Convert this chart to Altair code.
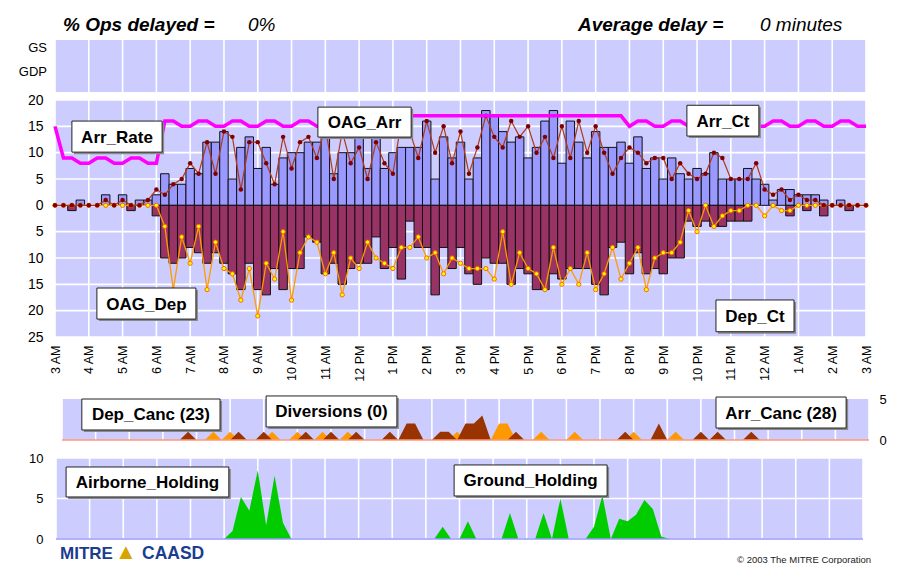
import json
import altair as alt
import pandas as pd

# ---------------- data: 15-minute bins from 3 AM to 3 AM (97 points) ----------------
arr_ct = [0, 0, 0, 1, 0, 0, 2, 0, 2, 0, 1, 1, 2,
          6, 4, 4, 7, 6, 12, 12, 14, 5, 11, 13, 7,
          11, 4, 9, 10, 10, 12, 12, 14, 6, 10, 10, 13,
          7, 13, 7, 10, 11, 11, 11, 16, 5, 13, 9, 12,
          5, 9, 18, 17, 14, 12, 13, 9, 11, 16, 18, 8,
          16, 12, 9, 14, 11, 11, 12, 8, 13, 7, 9, 5,
          9, 6, 5, 7, 6, 10, 5, 5, 5, 7, 5, 4,
          1, 3, 3, 2, 2, 2, 1, 0, 1, 0, 0, 0]

dep_ct = [0, 0, 1, 0, 0, 0, 0, 0, 0, 1, 0, 0, 2,
          10, 11, 10, 8, 9, 11, 9, 11, 13, 16, 11, 16,
          17, 12, 16, 12, 12, 6, 7, 13, 11, 15, 12, 11,
          11, 6, 12, 8, 14, 3, 8, 8, 17, 8, 12, 8,
          13, 15, 10, 11, 11, 15, 12, 13, 16, 16, 13, 14,
          12, 12, 12, 15, 17, 8, 7, 13, 9, 13, 12, 13,
          10, 10, 3, 4, 3, 4, 4, 3, 3, 3, 0, 0,
          0, 0, 2, 0, 1, 0, 2, 0, 0, 1, 0, 0]

oag_arr = [0, 0, 0, 0, 0, 0, 1, 0, 1, 0, 0, 1, 3,
           2, 4, 5, 8, 6, 12, 6, 14, 13, 3, 12, 12,
           8, 4, 13, 7, 12, 13, 9, 15, 5, 14, 8, 11,
           5, 12, 8, 6, 16, 14, 9, 16, 10, 15, 8, 14,
           6, 11, 17, 13, 11, 16, 13, 15, 10, 13, 9, 15,
           9, 16, 10, 15, 10, 6, 9, 11, 10, 8, 9, 9,
           5, 8, 6, 5, 6, 10, 9, 5, 5, 5, 8, 3,
           2, 3, 1, 2, 1, 1, 0, 0, 0, 0, 0, 0]

oag_dep = [0, 0, 0, 0, 0, 0, 0, 0, 0, 0, 0, 0, 0,
           4, 16, 6, 11, 4, 16, 7, 12, 13, 18, 12, 21,
           11, 14, 5, 18, 9, 6, 7, 13, 9, 17, 10, 12,
           7, 10, 11, 12, 8, 8, 6, 10, 9, 13, 10, 11,
           12, 12, 12, 14, 5, 15, 9, 12, 13, 16, 8, 15,
           12, 15, 9, 16, 13, 8, 14, 11, 8, 16, 10, 9,
           9, 7, 1, 5, 0, 4, 2, 1, 1, 0, 0, 2,
           0, 1, 1, 0, 0, 0, 0, 0, 0, 0, 0, 0]

arr_rate = [15, 9, 9, 8, 8, 9, 9, 8, 8, 9, 9, 8, 8,
            16, 16, 15, 15, 16, 16, 15, 15, 16, 16, 15, 15,
            16, 16, 15, 15, 16, 16, 15, 15, 16, 16, 15, 15,
            16, 16, 17, 17, 17, 17, 17, 17, 17, 17, 17, 17,
            17, 17, 17, 17, 17, 17, 17, 17, 17, 17, 17, 17,
            17, 17, 17, 17, 17, 17, 17, 15, 16, 16, 15, 15,
            16, 16, 15, 15, 16, 16, 15, 15, 16, 16, 15, 15,
            16, 16, 15, 15, 16, 16, 15, 15, 16, 16, 15, 15]

arr_canc = [0, 0, 0, 0, 0, 0, 0, 0, 0, 0, 0, 0, 0,
            0, 0, 1, 0, 0, 0, 0, 0, 1, 0, 0, 1,
            0, 0, 0, 0, 1, 0, 0, 1, 0, 0, 1, 0,
            0, 0, 1, 0, 2, 2, 0, 0, 1, 1, 0, 2,
            2, 3, 0, 0, 0, 1, 0, 0, 0, 0, 0, 0,
            0, 0, 0, 0, 0, 0, 1, 0, 0, 0, 2, 0,
            0, 0, 0, 1, 0, 1, 0, 0, 0, 1, 0, 0,
            0, 0, 0, 0, 0, 0, 0, 0, 0, 0, 0, 0]

dep_canc = [0, 0, 0, 0, 0, 0, 0, 0, 0, 0, 0, 0, 0,
            0, 0, 0, 0, 0, 1, 0, 1, 0, 0, 0, 0,
            1, 0, 0, 1, 0, 0, 1, 0, 0, 1, 0, 0,
            0, 0, 0, 0, 0, 0, 0, 0, 0, 0, 1, 0,
            0, 0, 0, 2, 2, 0, 0, 0, 1, 0, 0, 0,
            1, 0, 0, 0, 0, 0, 0, 1, 0, 0, 0, 0,
            1, 0, 0, 0, 0, 0, 0, 0, 0, 0, 0, 0,
            0, 0, 0, 0, 0, 0, 0, 0, 0, 0, 0, 0]

airborne = [0, 0, 0, 0, 0, 0, 0, 0, 0, 0, 0, 0, 0,
            0, 0, 0, 0, 0, 0, 0, 0, 1, 5.2, 3.5, 8.5,
            1.7, 7.8, 2, 0, 0, 0, 0, 0, 0, 0, 0, 0,
            0, 0, 0, 0, 0, 0, 0, 0, 0, 0, 0, 0,
            0, 0, 0, 0, 0, 0, 0, 0, 0, 0, 0, 0,
            0, 0, 0, 0, 0, 0, 0, 0, 0, 0, 0, 0,
            0, 0, 0, 0, 0, 0, 0, 0, 0, 0, 0, 0,
            0, 0, 0, 0, 0, 0, 0, 0, 0, 0, 0, 0]

ground = [0, 0, 0, 0, 0, 0, 0, 0, 0, 0, 0, 0, 0,
          0, 0, 0, 0, 0, 0, 0, 0, 0, 0, 0, 0,
          0, 0, 0, 0, 0, 0, 0, 0, 0, 0, 0, 0,
          0, 0, 0, 0, 0, 0, 0, 0, 0, 1.5, 0, 0,
          2.2, 0, 0, 0, 0, 3.2, 0, 0, 0, 3.2, 0, 5,
          0, 0, 0, 1.5, 5.4, 0, 2.5, 2.2, 3, 4.8, 3.7, 0.3,
          0, 0, 0, 0, 0, 0, 0, 0, 0, 0, 0, 0,
          0, 0, 0, 0, 0, 0, 0, 0, 0, 0, 0, 0]

hour_labels = ['3 AM', '4 AM', '5 AM', '6 AM', '7 AM', '8 AM', '9 AM', '10 AM', '11 AM',
               '12 PM', '1 PM', '2 PM', '3 PM', '4 PM', '5 PM', '6 PM', '7 PM', '8 PM',
               '9 PM', '10 PM', '11 PM', '12 AM', '1 AM', '2 AM', '3 AM']
main_ticks = [-25, -20, -15, -10, -5, 0, 5, 10, 15, 20]
hold_ticks = [0, 5, 10]
canc_ticks = [0, 5]
panel_rows = ['GS', 'GDP']

# annotation boxes (panel data coordinates)
main_notes = pd.DataFrame({
    'label': ['Arr_Rate', 'OAG_Arr', 'Arr_Ct', 'OAG_Dep', 'Dep_Ct'],
    'x1': [0.50, 7.78, 18.70, 1.24, 19.56], 'x2': [3.17, 10.54, 20.83, 4.17, 21.87],
    'y1': [16.0, 18.65, 19.0, -15.7, -17.97], 'y2': [10.1, 12.96, 13.15, -21.6, -24.0]})
canc_notes = pd.DataFrame({
    'label': ['Dep_Canc (23)', 'Diversions (0)', 'Arr_Canc (28)'],
    'x1': [0.59, 6.07, 19.45], 'x2': [4.70, 9.96, 23.32],
    'y1': [5.0, 5.37, 5.24], 'y2': [1.22, 1.59, 1.46]})
hold_notes = pd.DataFrame({
    'label': ['Airborne_Holding', 'Ground_Holding'],
    'x1': [0.30, 11.84], 'x2': [5.14, 16.39],
    'y1': [8.89, 9.14], 'y2': [5.19, 5.31]})

# ---------------- tables ----------------
df = pd.DataFrame({'i': list(range(len(arr_ct))), 'arr': arr_ct, 'dep': dep_ct,
                   'oag_arr': oag_arr, 'oag_dep': oag_dep, 'rate': arr_rate,
                   'arr_canc': arr_canc, 'dep_canc': dep_canc,
                   'air': airborne, 'gnd': ground})
df['t'] = df['i'] / 4.0
df['x1'] = df['t'] - 0.125
df['x2'] = df['t'] + 0.125
df['dep_neg'] = -df['dep']
df['oag_dep_neg'] = -df['oag_dep']
hours = pd.DataFrame({'h': list(range(25))})
frame = pd.DataFrame({'a': [0]})

FONT = 'Liberation Sans'
LAV = '#CCCCFF'
GRIDC = '#FFFFFF'
GW = 1.6

xs_main = alt.Scale(domain=[0, 24], nice=False, zero=False)
xs_canc = alt.Scale(domain=[0, 24], nice=False, zero=False, range=[7, 814])
xs_hold = alt.Scale(domain=[0, 24], nice=False, zero=False, range=[1, 808])
ys_top = alt.Scale(type='point', domain=panel_rows, range=[8, 32], padding=0)
ys_main = alt.Scale(domain=[-25, 20], nice=False, zero=False, range=[297, 60])
ys_canc = alt.Scale(domain=[0, 5], nice=False, zero=False, range=[400, 359])
ys_hold = alt.Scale(domain=[0, 10], nice=False, zero=False, range=[499, 418])

ax_x_main = alt.Axis(values=list(range(25)), labelExpr=json.dumps(hour_labels) + '[datum.value]',
                     labelAngle=270, labelAlign='right', labelBaseline='middle',
                     offset=-202, domain=False, ticks=False, grid=False, labelPadding=8,
                     labelFontSize=12.5, labelColor='#000000', labelFlush=False,
                     labelOverlap=False, title=None, orient='bottom')
ax_y_main = alt.Axis(values=main_ticks, labelExpr='abs(datum.value)', domain=False, ticks=False,
                     grid=False, labelPadding=12, labelFontSize=14, labelColor='#000000',
                     labelFlush=False, labelOverlap=False, title=None, orient='left')
ax_y_hold = alt.Axis(values=hold_ticks, domain=False, ticks=False, grid=False, labelPadding=12,
                     labelFontSize=13, labelColor='#000000', labelFlush=False,
                     labelOverlap=False, title=None, orient='left')
ax_y_canc = alt.Axis(values=canc_ticks, domain=False, ticks=False, grid=False, labelPadding=13,
                     labelFontSize=13, labelColor='#000000', labelFlush=False,
                     labelOverlap=False, title=None, orient='right', labelAlign='left')


def make_enc(xscale, xaxis, yscale, yaxis):
    def fx(field):
        return alt.X(field, type='quantitative', scale=xscale, axis=xaxis)

    def fy(field):
        return alt.Y(field, type='quantitative', scale=yscale, axis=yaxis)

    def dx(v):
        return alt.XDatum(v, type='quantitative', scale=xscale, axis=xaxis)

    def dy(v):
        return alt.YDatum(v, type='quantitative', scale=yscale, axis=yaxis)
    return fx, fy, dx, dy


M = make_enc(xs_main, ax_x_main, ys_main, ax_y_main)
C = make_enc(xs_canc, None, ys_canc, ax_y_canc)
H = make_enc(xs_hold, None, ys_hold, ax_y_hold)


def notes_layers(notes, enc):
    fx, fy, dx, dy = enc
    base = alt.Chart(notes).encode(x=fx('x1'), x2='x2:Q', y=fy('y1'), y2='y2:Q')
    shadow = base.mark_rect(fill='#8a8a8a', xOffset=2, x2Offset=2, yOffset=2, y2Offset=2)
    box = base.mark_rect(fill='white', stroke='#222222', strokeWidth=1)
    txt = alt.Chart(notes).transform_calculate(
        xc='(datum.x1 + datum.x2) / 2', yc='(datum.y1 + datum.y2) / 2'
    ).mark_text(fontSize=17, fontWeight='bold', color='#000000', align='center',
                baseline='middle', dy=1).encode(x=fx('xc'), y=fy('yc'), text='label:N')
    return [shadow, box, txt]


# ---------------- top GS / GDP panel ----------------
top_bg = alt.Chart(frame).mark_rect(fill=LAV).encode(
    x=alt.XDatum(0, type='quantitative', scale=xs_main, axis=None), x2=alt.X2Datum(24),
    y=alt.value(0), y2=alt.value(52))
top_grid = alt.Chart(hours).mark_rule(color=GRIDC, strokeWidth=GW).encode(
    x=alt.X('h:Q', scale=xs_main, axis=None), y=alt.value(0), y2=alt.value(52))
top_text = alt.Chart(pd.DataFrame({'row': panel_rows})).mark_text(
    align='right', baseline='middle', fontSize=13, color='#000000').encode(
    x=alt.value(-8), y=alt.Y('row:N', scale=ys_top, axis=None), text='row:N')
top = alt.layer(top_bg, top_grid, top_text)

# ---------------- main panel ----------------
fx, fy, dx, dy = M
main_bg = alt.Chart(frame).mark_rect(fill=LAV).encode(
    x=dx(0), x2=alt.X2Datum(24), y=dy(-25), y2=alt.Y2Datum(20))
main_vgrid = alt.Chart(hours).mark_rule(color=GRIDC, strokeWidth=GW).encode(
    x=fx('h'), y=dy(-25), y2=alt.Y2Datum(20))
main_hgrid = alt.Chart(pd.DataFrame({'v': main_ticks})).mark_rule(color=GRIDC, strokeWidth=GW).encode(
    y=fy('v'), x=dx(0), x2=alt.X2Datum(24))
arr_bars = alt.Chart(df).transform_filter('datum.arr > 0').mark_rect(
    fill='#9999FF', stroke='#111111', strokeWidth=1).encode(
    x=fx('x1'), x2='x2:Q', y=fy('arr'), y2=alt.Y2Datum(0))
dep_bars = alt.Chart(df).transform_filter('datum.dep > 0').mark_rect(
    fill='#993366', stroke='#111111', strokeWidth=1).encode(
    x=fx('x1'), x2='x2:Q', y=fy('dep_neg'), y2=alt.Y2Datum(0))
dep_line = alt.Chart(df).mark_line(color='#FF9900', strokeWidth=1.3).encode(
    x=fx('t'), y=fy('oag_dep_neg'))
dep_pts = alt.Chart(df).mark_point(shape='circle', size=18, filled=True, fill='#FFFF00',
                                    stroke='#FF6600', strokeWidth=1, opacity=1).encode(
    x=fx('t'), y=fy('oag_dep_neg'))
arr_line = alt.Chart(df).mark_line(color='#B03A1A', strokeWidth=1.2).encode(
    x=fx('t'), y=fy('oag_arr'))
arr_pts = alt.Chart(df).mark_point(shape='circle', size=20, filled=True, color='#800000',
                                    opacity=1).encode(x=fx('t'), y=fy('oag_arr'))
rate_line = alt.Chart(df).mark_line(color='#FF00FF', strokeWidth=3.5).encode(
    x=fx('t'), y=fy('rate'))
main = alt.layer(main_bg, main_vgrid, main_hgrid, arr_bars, dep_bars, dep_line, dep_pts,
                 arr_line, arr_pts, rate_line, *notes_layers(main_notes, M))

# ---------------- cancellations panel ----------------
fx, fy, dx, dy = C
canc_bg = alt.Chart(frame).mark_rect(fill=LAV).encode(
    x=dx(0), x2=alt.X2Datum(24), y=dy(0), y2=alt.Y2Datum(5))
canc_grid = alt.Chart(hours).mark_rule(color=GRIDC, strokeWidth=GW).encode(
    x=fx('h'), y=dy(0), y2=alt.Y2Datum(5))
dep_canc_area = alt.Chart(df).mark_area(color='#FF9900', opacity=1).encode(
    x=fx('t'), y=fy('dep_canc'))
arr_canc_area = alt.Chart(df).mark_area(color='#993300', opacity=1).encode(
    x=fx('t'), y=fy('arr_canc'))
canc_base = alt.Chart(frame).mark_rule(color='#FF9977', strokeWidth=1.5).encode(
    x=dx(0), x2=alt.X2Datum(24), y=dy(0))
canc = alt.layer(canc_bg, canc_grid, dep_canc_area, arr_canc_area, canc_base,
                 *notes_layers(canc_notes, C))

# ---------------- holding panel ----------------
fx, fy, dx, dy = H
hold_bg = alt.Chart(frame).mark_rect(fill=LAV).encode(
    x=dx(0), x2=alt.X2Datum(24), y=dy(0), y2=alt.Y2Datum(10))
hold_vgrid = alt.Chart(hours).mark_rule(color=GRIDC, strokeWidth=GW).encode(
    x=fx('h'), y=dy(0), y2=alt.Y2Datum(10))
hold_hgrid = alt.Chart(pd.DataFrame({'v': hold_ticks})).mark_rule(color=GRIDC, strokeWidth=GW).encode(
    y=fy('v'), x=dx(0), x2=alt.X2Datum(24))
air_area = alt.Chart(df).mark_area(color='#00CC00', opacity=1).encode(x=fx('t'), y=fy('air'))
gnd_area = alt.Chart(df).mark_area(color='#00CC00', opacity=1).encode(x=fx('t'), y=fy('gnd'))
hold_base = alt.Chart(frame).mark_rule(color='#9999FF', strokeWidth=1.5).encode(
    x=dx(0), x2=alt.X2Datum(24), y=dy(0))
hold = alt.layer(hold_bg, hold_vgrid, hold_hgrid, air_area, gnd_area, hold_base,
                 *notes_layers(hold_notes, H))


# ---------------- header / footer text ----------------
def label(text, x, y, color='#000000', baseline='alphabetic', **kw):
    return alt.Chart(frame).mark_text(align='left', baseline=baseline, color=color, **kw).encode(
        x=alt.value(x), y=alt.value(y), text=alt.value(text))


decor = [
    label('% Ops delayed =', 8, -9, fontSize=19, fontWeight='bold', fontStyle='italic'),
    label('0%', 193, -9, fontSize=19, fontStyle='italic'),
    label('Average delay =', 523, -9, fontSize=19, fontWeight='bold', fontStyle='italic'),
    label('0 minutes', 705, -9, fontSize=19, fontStyle='italic'),
    label('MITRE', 5, 519, color='#1B3C8F', fontSize=17, fontWeight='bold'),
    label('\u25B2', 60, 519, color='#D9A300', fontSize=22),
    label('CAASD', 87, 519, color='#1B3C8F', fontSize=17.5, fontWeight='bold'),
    label('\u00A9 2003 The MITRE Corporation', 682, 520, color='#222222', baseline='middle',
          fontSize=9.5),
]

chart = alt.layer(top, main, canc, hold, *decor).resolve_scale(
    x='independent', y='independent'
).properties(
    width=811, height=499,
    autosize=alt.AutoSizeParams(type='none'),
    padding={'left': 47, 'top': 32, 'right': 27, 'bottom': 25},
    background='white'
).configure(font=FONT).configure_view(stroke=None)

chart.save('out.html', embed_options={'renderer': 'svg', 'actions': False})
